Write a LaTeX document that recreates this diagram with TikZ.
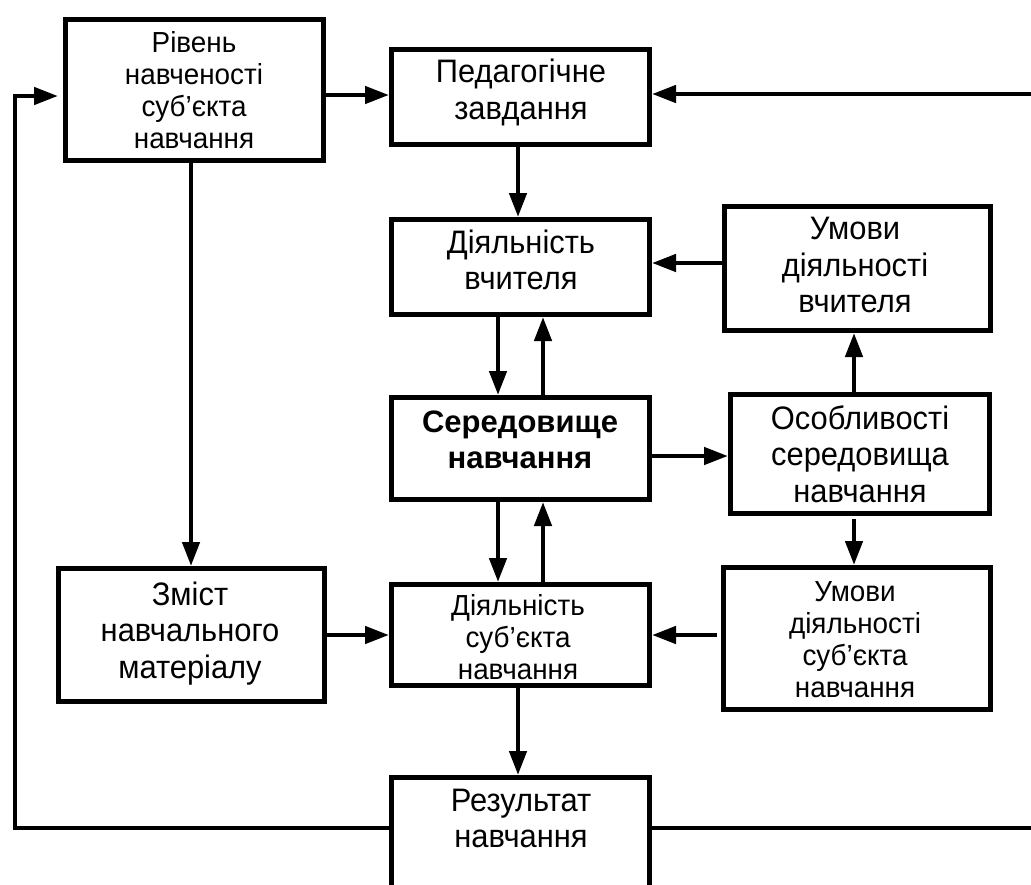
\documentclass[tikz,border=0pt]{standalone}
\usepackage{fontspec}
\setmainfont{Liberation Sans}
\newfontfamily\mainface[FakeStretch=0.95]{Liberation Sans}
\newfontfamily\thinface[FakeStretch=0.96]{Liberation Sans}
\usetikzlibrary{arrows.meta}

\tikzset{
  blk/.style={draw, line width=5pt, rectangle, inner sep=0pt},
  txt/.style={align=center, inner sep=0pt, font=\mainface\fontsize{32.5}{36.5}\selectfont},
  txtthin/.style={align=center, inner sep=0pt, font=\thinface\fontsize{29}{32}\selectfont},
  txtbold/.style={align=center, inner sep=0pt, font=\fontsize{31}{36.5}\selectfont\bfseries},
  conn/.style={line width=4.5pt, -{Triangle[length=24pt,width=17pt]}}
}

\begin{document}
\begin{tikzpicture}[x=1pt,y=-1pt]
\useasboundingbox (0,0) rectangle (1031,884);
\clip (0,0) rectangle (1031,884);

% boxes
\node[blk, minimum width=258, minimum height=141] (b1)  at (194.5,90)  {};
\node[blk, minimum width=258, minimum height=95]  (b2)  at (520.5,97)  {};
\node[blk, minimum width=258, minimum height=95]  (b3)  at (520.5,267) {};
\node[blk, minimum width=266, minimum height=124] (b4)  at (857.5,268.5) {};
\node[blk, minimum width=258, minimum height=102] (b5)  at (520.5,448.5) {};
\node[blk, minimum width=259, minimum height=119] (b6)  at (860,454)   {};
\node[blk, minimum width=266, minimum height=133] (b7)  at (191.5,635) {};
\node[blk, minimum width=258, minimum height=101] (b8)  at (520.5,635) {};
\node[blk, minimum width=267, minimum height=142] (b9)  at (857,638.5) {};
\node[blk, minimum width=258, minimum height=115] (b10) at (520.5,835) {};

% box texts
\node[txtthin] (t1)  at (194,90)    {Рівень\\навченості\\суб’єкта\\навчання};
\node[txt]     (t2)  at (521,92.5)  {Педагогічне\\завдання};
\node[txt]     (t3)  at (521,260)   {Діяльність\\вчителя};
\node[txt]     (t4)  at (855,265)   {Умови\\діяльності\\вчителя};
\node[txtbold] (t5)  at (520,440)   {Середовище\\навчання};
\node[txt]     (t6)  at (860,454)   {Особливості\\середовища\\навчання};
\node[txt]     (t7)  at (190,633.5) {Зміст\\навчального\\матеріалу};
\node[txtthin] (t8)  at (518,637.5) {Діяльність\\суб’єкта\\навчання};
\node[txtthin] (t9)  at (855,640)   {Умови\\діяльності\\суб’єкта\\навчання};
\node[txt]     (t10) at (521,818.5) {Результат\\навчання};

% feedback loops
\coordinate (lc1) at (15,828);
\coordinate (lc2) at (15,96);
\coordinate (rc1) at (1045,828);
\coordinate (rc2) at (1045,94);

\draw[conn, shorten >=5pt] (b10.west |- lc1) -- (lc1) -- (lc2) -- (b1.west |- lc2);
\draw[conn] (b10.east |- rc1) -- (rc1) -- (rc2) -- (b2.east |- rc2);

% connectors
\draw[conn] (b1.east |- 0,95) -- (b2.west |- 0,95);
\draw[conn] (b1.south -| 191,0) -- (b7.north -| 191,0);
\draw[conn] (b2.south -| 518,0) -- (b3.north -| 518,0);
\draw[conn] (b3.south -| 498,0) -- (b5.north -| 498,0);
\draw[conn] (b5.north -| 543,0) -- (b3.south -| 543,0);
\draw[conn] (b5.south -| 498,0) -- (b8.north -| 498,0);
\draw[conn] (b8.north -| 543,0) -- (b5.south -| 543,0);
\draw[conn] (b8.south -| 518,0) -- (b10.north -| 518,0);
\draw[conn] (b4.west |- 0,263) -- (b3.east |- 0,263);
\draw[conn] (b5.east |- 0,456) -- (b6.west |- 0,456);
\draw[conn] (b6.north -| 854,0) -- (b4.south -| 854,0);
\draw[conn, shorten <=3pt] (b6.south -| 854,0) -- (b9.north -| 854,0);
\draw[conn] (b7.east |- 0,635) -- (b8.west |- 0,635);
\draw[conn, shorten <=4pt] (b9.west |- 0,635) -- (b8.east |- 0,635);
\end{tikzpicture}
\end{document}
